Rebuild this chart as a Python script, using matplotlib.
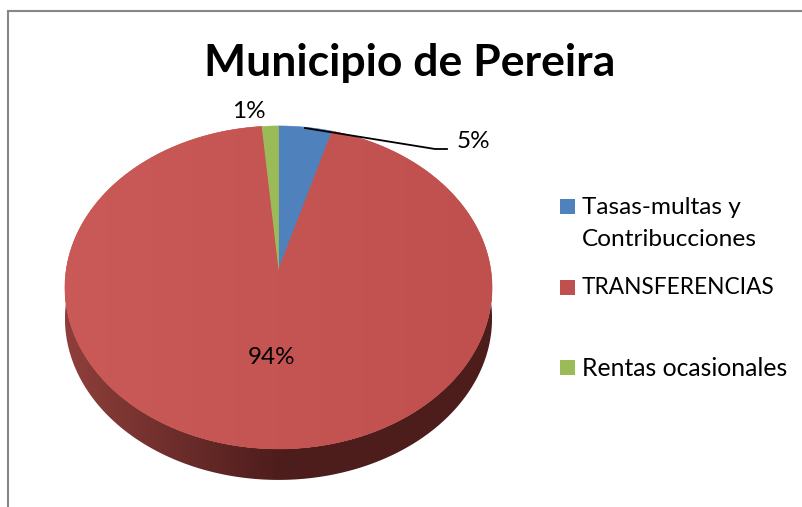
import numpy as np
from matplotlib import pyplot as plt
from matplotlib.colors import LinearSegmentedColormap
from matplotlib.patches import Polygon, Rectangle

title = "Municipio de Pereira"
categories = ["Tasas-multas y\nContribucciones", "TRANSFERENCIAS", "Rentas ocasionales"]
values = [4.5, 94.1, 1.4]
pct_labels = ["5%", "94%", "1%"]
colors = ["#4f81bd", "#c0504d", "#9bbb59"]

# pie geometry in image pixels
cx, cy = 278.5, 270
a, b, k = 212.3, 159.6, 0.108
depth = 31

plt.rcParams['font.family'] = ['Lato', 'DejaVu Sans']

fig = plt.figure(figsize=(8.02, 5.07), dpi=100)
ax = fig.add_axes([0, 0, 1, 1])
ax.set_xlim(0, 802)
ax.set_ylim(507, 0)
ax.axis("off")


def rim(angle_deg):
    # perspective view of a circle, angle clockwise from the top
    t = np.radians(angle_deg)
    u, v = np.sin(t), np.cos(t)
    return cx + a * u / (1 + k * v), cy - b * v / (1 + k * v)


# chart frame, runs off the right and bottom edges
ax.plot([8, 8, 802], [507, 11, 11], color="#868686", lw=1.5, solid_joinstyle="miter")

# side wall
x1, y1 = rim(np.linspace(75, 285, 200))
wall = Polygon(np.r_[np.c_[x1, y1 + depth], np.c_[x1[::-1], y1[::-1]]], closed=True,
               fc="none", ec="none")
ax.add_patch(wall)
wall_cmap = LinearSegmentedColormap.from_list("wall", ["#4d1d1c", "#4d1d1c", "#8f3f3b"])
img = ax.imshow(np.linspace(0, 1, 256)[None, :], cmap=wall_cmap, aspect="auto",
                extent=(492, 65, 490, 280), zorder=1)
img.set_clip_path(wall)
ax.set_xlim(0, 802)
ax.set_ylim(507, 0)

# top surface
start = 0
for val, col in zip(values, colors):
    x2, y2 = rim(np.linspace(start, start + val * 3.6, 300))
    wedge = Polygon(np.r_[[[cx, cy]], np.c_[x2, y2]], closed=True, fc=col, ec=col, lw=0.4, zorder=2)
    ax.add_patch(wedge)
    if col == "#c0504d":
        top_cmap = LinearSegmentedColormap.from_list("top", ["#ca5a58", "#c0504d"])
        shade = ax.imshow(np.linspace(0, 1, 256)[None, :], cmap=top_cmap, aspect="auto",
                          extent=(65, 492, 450, 125), zorder=2.1)
        shade.set_clip_path(wedge)
        ax.set_xlim(0, 802)
        ax.set_ylim(507, 0)
    start += val * 3.6

ax.text(410, 63, title, fontsize=32, fontweight="bold", ha="center", va="center", color="black")

# data labels
ax.plot([305, 435, 447], [128, 149, 149], color="black", lw=1.3, zorder=3)
ax.text(473, 142, pct_labels[0], fontsize=17.5, ha="center", va="center", zorder=4)
ax.text(271.5, 357, pct_labels[1], fontsize=17.5, ha="center", va="center", zorder=4)
ax.text(248.5, 111, pct_labels[2], fontsize=17.5, ha="center", va="center", zorder=4)

# legend
key_y = [199, 280, 360]
text_y = [[207, 240], [288], [368]]
text_size = [17.6, 16.3, 17.8]
for name, col, ky, ty, fs in zip(categories, colors, key_y, text_y, text_size):
    ax.add_patch(Rectangle((560, ky), 15, 15, fc=col, ec="none"))
    for line, y in zip(name.split("\n"), ty):
        ax.text(582, y, line, fontsize=fs, ha="left", va="center")

fig.savefig("out.png", dpi=100)
